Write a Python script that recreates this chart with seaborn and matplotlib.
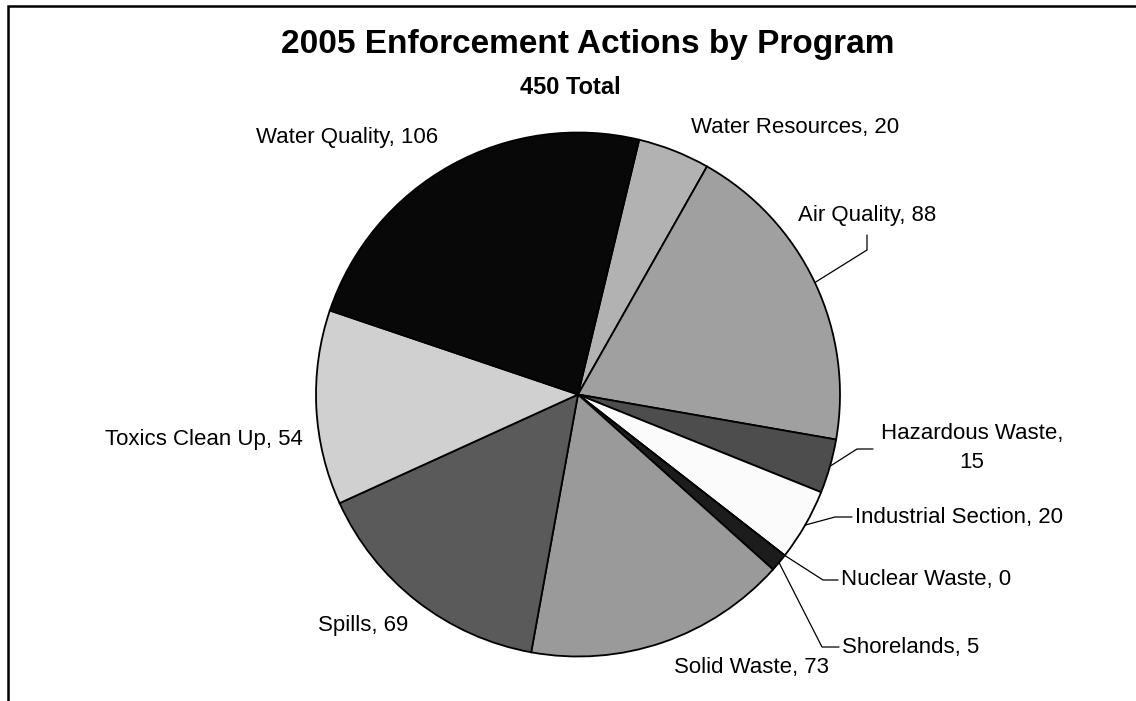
import numpy as np
import seaborn as sns
import matplotlib.pyplot as plt
from matplotlib.patches import Rectangle

# Dados
programas = ["Water Resources", "Air Quality", "Hazardous Waste", "Industrial Section",
             "Nuclear Waste", "Shorelands", "Solid Waste", "Spills",
             "Toxics Clean Up", "Water Quality"]
acoes = [20, 88, 15, 20, 0, 5, 73, 69, 54, 106]
cores = ["#b2b2b2", "#a0a0a0", "#4d4d4d", "#fbfbfb", "#ffffff",
         "#1c1c1c", "#9a9a9a", "#5a5a5a", "#d0d0d0", "#080808"]
titulo = "2005 Enforcement Actions by Program"
subtitulo = "%d Total" % sum(acoes)

sns.set_style("white")
plt.rcParams['font.family'] = ['Liberation Sans', 'DejaVu Sans']
plt.rcParams['text.color'] = 'black'

W, H = 1136, 701
fig = plt.figure(figsize=(W / 100, H / 100), dpi=100)
ax = fig.add_axes([0, 0, 1, 1])

cx, cy, raio = 578, H - 394.5, 262
fatias, _ = ax.pie(
    acoes,
    colors=cores,
    startangle=76.5,
    counterclock=False,
    radius=raio,
    center=(cx, cy),
    wedgeprops=dict(edgecolor="black", linewidth=1.3),
)
ax.set_xlim(0, W)
ax.set_ylim(0, H)
ax.axis("off")

# posicao dos rotulos (pixels, y a partir do topo), alinhamento, linha guia
layout = {
    "Water Quality":      dict(xy=(347, 138), ha="center", guia=None),
    "Water Resources":    dict(xy=(795, 127), ha="center", guia=None),
    "Air Quality":        dict(xy=(867, 215), ha="center", guia=[(867, 250), (867, 235)]),
    "Hazardous Waste":    dict(xy=(972, 448), ha="center", guia=[(857, 449), (873, 449)]),
    "Industrial Section": dict(xy=(855, 517), ha="left", guia=[(835, 517), (852, 517)]),
    "Nuclear Waste":      dict(xy=(841, 579), ha="left", guia=[(823, 580), (838, 580)]),
    "Shorelands":         dict(xy=(842, 647), ha="left", guia=[(822, 647), (839, 647)]),
    "Solid Waste":        dict(xy=(752, 668), ha="center", guia=None),
    "Spills":             dict(xy=(363, 625), ha="center", guia=None),
    "Toxics Clean Up":    dict(xy=(204, 439), ha="center", guia=None),
}

for fatia, nome, valor in zip(fatias, programas, acoes):
    cfg = layout[nome]
    texto = "%s, %d" % (nome, valor)
    if nome == "Hazardous Waste":
        texto = "%s,\n%d" % (nome, valor)
    x, y = cfg["xy"]
    ax.text(x, H - y, texto, ha=cfg["ha"], va="center", fontsize=16,
            multialignment="center", linespacing=1.45)
    if cfg["guia"]:
        ang = np.deg2rad((fatia.theta1 + fatia.theta2) / 2)
        px = [cx + raio * np.cos(ang)] + [p[0] for p in cfg["guia"]]
        py = [cy + raio * np.sin(ang)] + [H - p[1] for p in cfg["guia"]]
        ax.plot(px, py, color="black", linewidth=0.9)

ax.text(588, H - 45, titulo, ha="center", va="center", fontsize=24, fontweight="bold")
ax.text(570, H - 87, subtitulo, ha="center", va="center", fontsize=17, fontweight="bold")

# moldura (so aparecem os lados esquerdo e superior)
fig.add_artist(Rectangle((8 / W, -0.1), 1.2, (H - 6) / H + 0.1,
                         transform=fig.transFigure, fill=False,
                         edgecolor="black", linewidth=1.8))

fig.savefig("out.png", dpi=100)
